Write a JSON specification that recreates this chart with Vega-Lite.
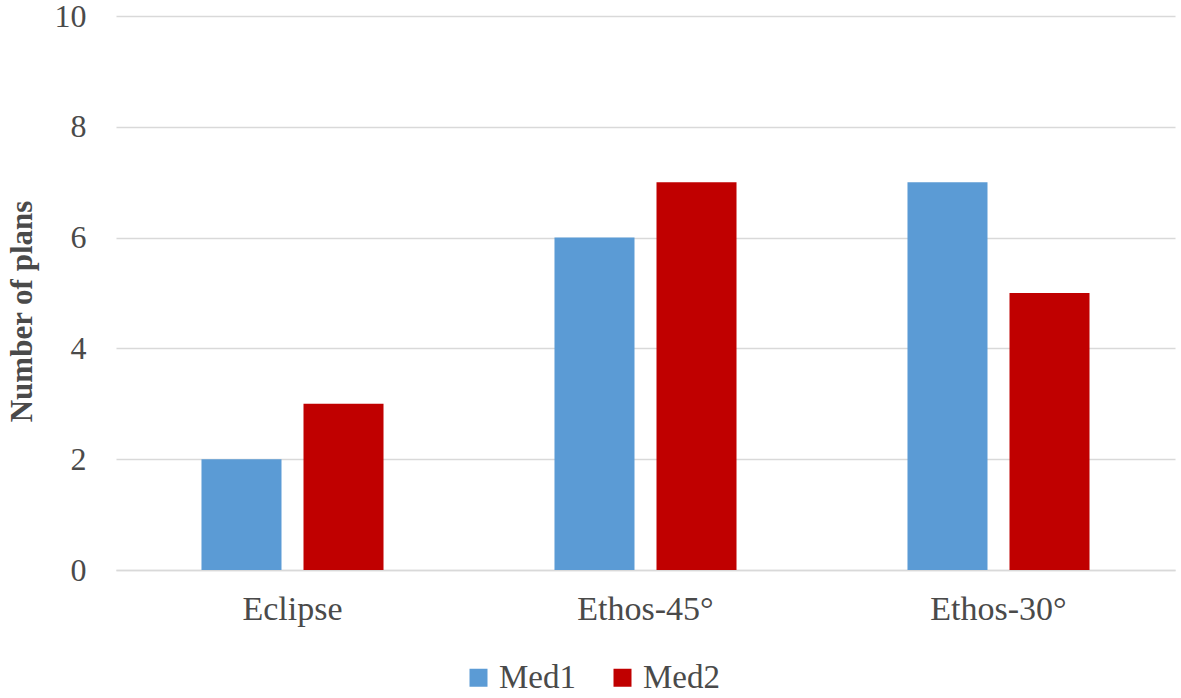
{
  "$schema": "https://vega.github.io/schema/vega-lite/v6.json",
  "autosize": {"type": "none"},
  "width": 1059,
  "height": 554,
  "padding": {"left": 116, "top": 16, "right": 6, "bottom": 128},
  "background": "white",
  "data": {
    "values": [
      {"category": "Eclipse", "series": "Med1", "plans": 2},
      {"category": "Eclipse", "series": "Med2", "plans": 3},
      {"category": "Ethos-45°", "series": "Med1", "plans": 6},
      {"category": "Ethos-45°", "series": "Med2", "plans": 7},
      {"category": "Ethos-30°", "series": "Med1", "plans": 7},
      {"category": "Ethos-30°", "series": "Med2", "plans": 5}
    ]
  },
  "config": {
    "font": "Liberation Serif",
    "view": {"stroke": null}
  },
  "mark": {"type": "bar"},
  "encoding": {
    "x": {
      "field": "category",
      "type": "nominal",
      "sort": ["Eclipse", "Ethos-45°", "Ethos-30°"],
      "scale": {"paddingInner": 0, "paddingOuter": 0},
      "axis": {
        "title": null,
        "labelAngle": 0,
        "labelFontSize": 34,
        "labelColor": "#4a4a4a",
        "labelPadding": 22,
        "ticks": false,
        "domainColor": "#d9d9d9",
        "domainWidth": 1.5
      }
    },
    "xOffset": {
      "field": "series",
      "type": "nominal",
      "scale": {"paddingInner": 0.2157, "paddingOuter": 0.838}
    },
    "y": {
      "field": "plans",
      "type": "quantitative",
      "scale": {"domain": [0, 10]},
      "axis": {
        "title": "Number of plans",
        "titleFontSize": 31,
        "titleFontWeight": "bold",
        "titleColor": "#4a4a4a",
        "titleX": -78,
        "titleY": 295,
        "values": [0, 2, 4, 6, 8, 10],
        "labelFontSize": 32,
        "labelColor": "#4a4a4a",
        "labelPadding": 30,
        "ticks": false,
        "domain": false,
        "gridColor": "#d9d9d9",
        "gridWidth": 1.5
      }
    },
    "color": {
      "field": "series",
      "type": "nominal",
      "scale": {"domain": ["Med1", "Med2"], "range": ["#5b9bd5", "#c00000"]},
      "legend": {
        "title": null,
        "orient": "none",
        "legendX": 346,
        "legendY": 645,
        "direction": "horizontal",
        "symbolType": "square",
        "symbolSize": 324,
        "symbolStrokeWidth": 0,
        "symbolOpacity": 1,
        "labelFontSize": 33,
        "labelColor": "#4a4a4a",
        "labelOffset": 4,
        "columnPadding": 30
      }
    }
  }
}
